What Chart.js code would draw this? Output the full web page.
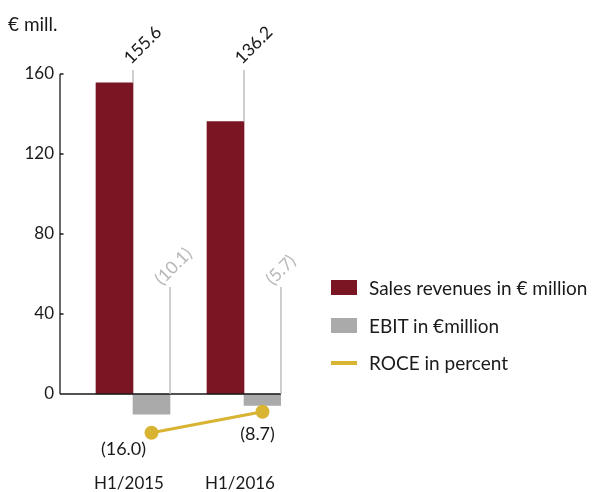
<!DOCTYPE html>
<html>
<head>
<meta charset="utf-8">
<script src="https://cdn.jsdelivr.net/npm/chart.js@4/dist/chart.umd.min.js"></script>
<style>
  html, body { margin: 0; padding: 0; background: #fff; }
  #wrap { position: relative; width: 593px; height: 492px; }
  #legend { position: absolute; left: 331px; top: 269px; font-family: Lato, sans-serif; font-size: 19px; color: #1a1a1a; }
  .item { display: flex; align-items: center; height: 37.5px; white-space: nowrap; }
  .sw { width: 26px; margin-right: 12px; }
</style>
</head>
<body>
<div id="wrap">
  <canvas id="chart" width="593" height="492"></canvas>
  <div id="legend"></div>
</div>
<script>
const categories = ['H1/2015', 'H1/2016'];
const salesRevenue = [155.6, 136.2];
const ebit = [-10.1, -5.7];
const roce = [-16.0, -8.7];
const yTicks = [0, 40, 80, 120, 160];

const seriesNames = ['Sales revenues in € million', 'EBIT in €million', 'ROCE in percent'];
const colors = ['#7a1623', '#aaaaaa', '#d9b332'];

// negative numbers are shown in brackets
const fmt = v => v < 0 ? '(' + Math.abs(v).toFixed(1) + ')' : v.toFixed(1);

Chart.defaults.font.family = 'Lato';
Chart.defaults.color = '#1a1a1a';

// axis line, baseline, leader lines and value labels
const decor = {
  id: 'decor',
  afterDatasetsDraw(chart) {
    const ctx = chart.ctx;
    const y = chart.scales.y;
    const area = chart.chartArea;
    const y0 = y.getPixelForValue(0);
    ctx.save();

    ctx.strokeStyle = '#1a1a1a';
    ctx.lineWidth = 1.3;
    ctx.beginPath();
    ctx.moveTo(area.left, y.getPixelForValue(yTicks[yTicks.length - 1]));
    ctx.lineTo(area.left, y0);
    yTicks.forEach(t => {
      const p = y.getPixelForValue(t);
      ctx.moveTo(area.left, p);
      ctx.lineTo(area.left + 3.5, p);
    });
    ctx.moveTo(area.left, y0);
    ctx.lineTo(area.right, y0);
    ctx.stroke();

    const leader = (dsIndex, values, topValue, textColor, dx, dy) => {
      const top = y.getPixelForValue(topValue);
      chart.getDatasetMeta(dsIndex).data.forEach((bar, i) => {
        const x = bar.x + bar.width / 2;
        ctx.strokeStyle = '#b4b4b4';
        ctx.lineWidth = 1.3;
        ctx.beginPath();
        ctx.moveTo(x, Math.min(bar.y, bar.base));
        ctx.lineTo(x, top);
        ctx.stroke();

        ctx.save();
        ctx.translate(x + dx, top + dy);
        ctx.rotate(-Math.PI / 4);
        ctx.font = '17.5px Lato';
        ctx.fillStyle = textColor;
        ctx.textAlign = 'left';
        ctx.textBaseline = 'middle';
        ctx.fillText(fmt(values[i]), 0, 0);
        ctx.restore();
      });
    };
    leader(0, salesRevenue, 162, '#1a1a1a', -6, -9);
    leader(1, ebit, 53.5, '#b8b8b8', -12, -5);

    // ROCE labels under the points
    const offs = [[-28, 17], [-5, 23]];
    ctx.font = '18px Lato';
    ctx.fillStyle = '#1a1a1a';
    ctx.textAlign = 'center';
    ctx.textBaseline = 'middle';
    chart.getDatasetMeta(2).data.forEach((pt, i) => {
      ctx.fillText(fmt(roce[i]), pt.x + offs[i][0], pt.y + offs[i][1]);
    });

    ctx.font = '19px Lato';
    ctx.textAlign = 'left';
    ctx.fillText('€ mill.', 8, 25);
    ctx.restore();
  }
};

const chart = new Chart(document.getElementById('chart'), {
  type: 'bar',
  data: {
    datasets: [
      {
        label: seriesNames[0],
        data: salesRevenue.map((v, i) => ({ x: i, y: v })),
        backgroundColor: colors[0],
        barThickness: 37,
        grouped: false,
        xAxisID: 'x', yAxisID: 'y',
        order: 1
      },
      {
        label: seriesNames[1],
        data: ebit.map((v, i) => ({ x: i, y: v })),
        backgroundColor: colors[1],
        barThickness: 37,
        grouped: false,
        xAxisID: 'x2', yAxisID: 'y',
        order: 1
      },
      {
        type: 'line',
        label: seriesNames[2],
        data: roce.map((v, i) => ({ x: i, y: v })),
        borderColor: colors[2],
        backgroundColor: colors[2],
        borderWidth: 3,
        pointRadius: 7,
        pointBackgroundColor: colors[2],
        pointBorderWidth: 0,
        xAxisID: 'x2', yAxisID: 'y2',
        order: 0
      }
    ]
  },
  options: {
    responsive: false,
    animation: false,
    layout: { padding: { top: 64, right: 312, left: 0, bottom: 0 } },
    scales: {
      // sales bars sit left of each category, EBIT bars and ROCE points right of it
      x: {
        type: 'linear',
        offset: false,
        min: -54.5 / 111,
        max: 166.5 / 111,
        grid: { display: false, drawTicks: false, offset: false },
        border: { display: false },
        afterBuildTicks: s => { s.ticks = categories.map((c, i) => ({ value: i })); },
        afterFit: s => { s.height = 32; },
        ticks: {
          callback: v => categories[v] ?? '',
          font: { size: 17 },
          padding: 13,
          labelOffset: 14.5,
          autoSkip: false,
          maxRotation: 0
        }
      },
      y: {
        min: -33,
        max: 165,
        grid: { display: false, drawTicks: false },
        border: { display: false },
        afterBuildTicks: s => { s.ticks = yTicks.map(v => ({ value: v })); },
        afterFit: s => { s.width = 60; },
        ticks: { font: { size: 17 }, padding: 6 }
      },
      x2: { type: 'linear', display: false, offset: false, min: -91.5 / 111, max: 129.5 / 111 },
      y2: { type: 'linear', display: false, min: -25.5, max: 112.2 }
    },
    plugins: {
      legend: { display: false },
      tooltip: { enabled: false }
    }
  },
  plugins: [decor]
});

// legend
const legend = document.getElementById('legend');
chart.data.datasets.forEach(ds => {
  const row = document.createElement('div');
  row.className = 'item';
  const sw = document.createElement('span');
  sw.className = 'sw';
  sw.style.background = ds.type === 'line' ? ds.borderColor : ds.backgroundColor;
  sw.style.height = ds.type === 'line' ? '4px' : '15px';
  row.appendChild(sw);
  row.appendChild(document.createTextNode(ds.label));
  legend.appendChild(row);
});
</script>
</body>
</html>
